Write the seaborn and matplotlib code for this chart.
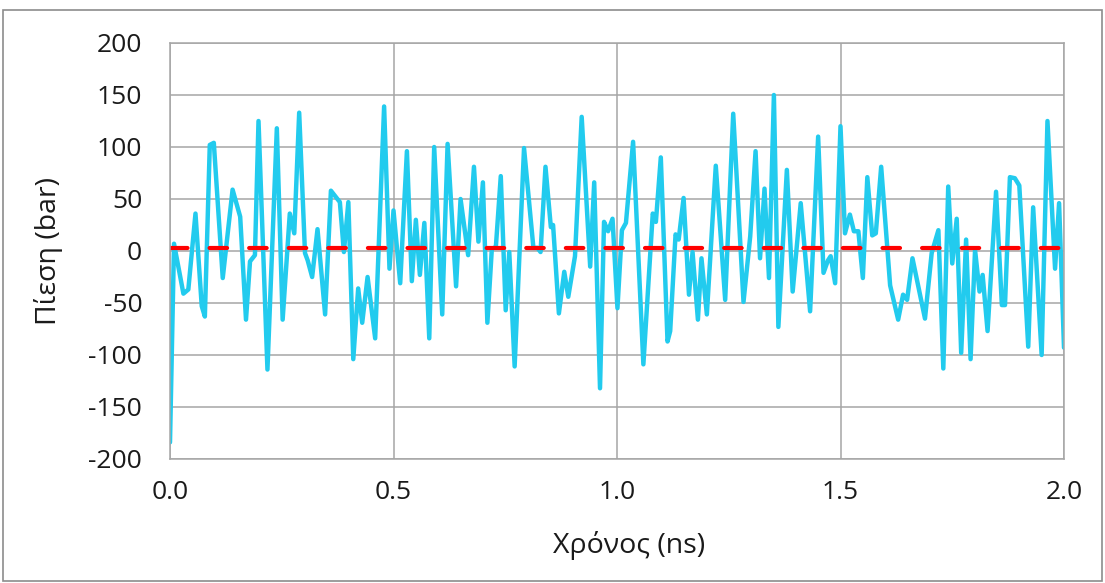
import matplotlib
matplotlib.use("Agg")
import matplotlib.pyplot as plt
import matplotlib.patches as patches
import seaborn as sns
import pandas as pd

# ---- data ----
time_ns = [0.000, 0.009, 0.030, 0.041, 0.057, 0.071, 0.078, 0.089, 0.098, 0.118,
           0.140, 0.157, 0.170, 0.179, 0.190, 0.198, 0.218, 0.239, 0.252, 0.268,
           0.278, 0.289, 0.302, 0.308, 0.318, 0.330, 0.347, 0.360, 0.380, 0.389,
           0.399, 0.410, 0.421, 0.430, 0.442, 0.459, 0.479, 0.491, 0.500, 0.515,
           0.530, 0.541, 0.550, 0.559, 0.569, 0.580, 0.591, 0.609, 0.621, 0.640,
           0.650, 0.667, 0.680, 0.690, 0.700, 0.710, 0.720, 0.729, 0.740, 0.751,
           0.759, 0.771, 0.792, 0.813, 0.822, 0.829, 0.840, 0.852, 0.857, 0.870,
           0.882, 0.891, 0.906, 0.921, 0.940, 0.949, 0.962, 0.971, 0.980, 0.990,
           1.001, 1.011, 1.020, 1.036, 1.059, 1.080, 1.087, 1.098, 1.113, 1.119,
           1.131, 1.138, 1.149, 1.161, 1.169, 1.181, 1.189, 1.201, 1.221, 1.242,
           1.260, 1.283, 1.298, 1.310, 1.320, 1.330, 1.340, 1.351, 1.361, 1.380,
           1.393, 1.411, 1.432, 1.450, 1.462, 1.472, 1.478, 1.488, 1.500, 1.510,
           1.521, 1.530, 1.540, 1.550, 1.560, 1.571, 1.579, 1.591, 1.611, 1.629,
           1.640, 1.649, 1.661, 1.689, 1.704, 1.719, 1.730, 1.741, 1.750, 1.760,
           1.770, 1.781, 1.791, 1.801, 1.811, 1.818, 1.829, 1.848, 1.861, 1.868,
           1.879, 1.890, 1.900, 1.920, 1.931, 1.950, 1.963, 1.980, 1.989, 2.000]

pressure_bar = [-184, 7, -41, -37, 36, -53, -63, 102, 104, -26,
                59, 33, -66, -10, -4, 125, -114, 118, -66, 36,
                17, 133, -2, -9, -25, 21, -61, 58, 47, -1,
                47, -104, -36, -69, -25, -84, 139, -17, 39, -31,
                96, -29, 30, -23, 27, -84, 100, -61, 103, -34,
                50, -4, 81, 9, 66, -69, 2, 4, 72, -57,
                -1, -111, 99, 3, 3, -1, 81, 23, 25, -60,
                -20, -44, -5, 129, -15, 66, -132, 28, 19, 31,
                -55, 20, 27, 105, -109, 36, 28, 90, -87, -77,
                16, 11, 51, -42, -1, -66, -7, -61, 82, -47,
                132, -49, 14, 96, -7, 60, -26, 150, -73, 78,
                -39, 46, -58, 110, -21, -9, -5, -31, 120, 17,
                35, 19, 19, -26, 71, 15, 17, 81, -33, -66,
                -42, -47, -7, -65, -2, 20, -113, 62, -12, 31,
                -98, 11, -104, 1, -39, -23, -77, 57, -52, -52,
                71, 70, 63, -92, 42, -100, 125, -17, 46, -93]

mean_time_ns = [0.0, 2.0]
mean_pressure_bar = [2.5, 2.5]

x_ticks = [0.0, 0.5, 1.0, 1.5, 2.0]
x_tick_labels = ["0.0", "0.5", "1.0", "1.5", "2.0"]
y_ticks = [-200, -150, -100, -50, 0, 50, 100, 150, 200]

x_label = "Χρόνος (ns)"
y_label = "Πίεση (bar)"

# ---- style ----
sns.set_style("white")
plt.rcParams["font.family"] = ["Open Sans", "DejaVu Sans"]
plt.rcParams["axes.unicode_minus"] = False

fig = plt.figure(figsize=(11.05, 5.83), dpi=100)
ax = fig.add_axes([170 / 1105, 1 - 459 / 583, 894 / 1105, 416 / 583])

df = pd.DataFrame({"t": time_ns, "p": pressure_bar})
sns.lineplot(data=df, x="t", y="p", ax=ax, color="#22CBEE", linewidth=3.2,
             estimator=None, sort=False)
ax.lines[-1].set_solid_joinstyle("round")
ax.lines[-1].set_solid_capstyle("round")

dfm = pd.DataFrame({"t": mean_time_ns, "p": mean_pressure_bar})
sns.lineplot(data=dfm, x="t", y="p", ax=ax, color="#FF0000", linewidth=3.0,
             estimator=None)
ml = ax.lines[-1]
ml.set_dashes((4.2, 5.3))
ml.set_dash_capstyle("round")

ax.set_xlim(0, 2.0)
ax.set_ylim(-200, 200)
ax.set_xticks(x_ticks)
ax.set_xticklabels(x_tick_labels)
ax.set_yticks(y_ticks)

grid_c = "#A6A6A6"
ax.grid(True, color=grid_c, linewidth=1.1)
ax.set_axisbelow(True)
for s in ax.spines.values():
    s.set_visible(True)
    s.set_color(grid_c)
    s.set_linewidth(1.1)

ax.tick_params(axis="both", length=0, labelsize=19, colors="#1A1A1A")
ax.tick_params(axis="y", pad=20)
ax.tick_params(axis="x", pad=15)

ax.set_xlabel(x_label, fontsize=20.5, color="#1A1A1A")
ax.set_ylabel(y_label, fontsize=20.5, color="#1A1A1A")
ax.xaxis.set_label_coords(0.513, -0.207)
ax.yaxis.set_label_coords(-0.136, 0.5)
ax.xaxis.label.set_va("center")
ax.yaxis.label.set_va("center")

# outer chart border
fig.patches.append(patches.Rectangle((3 / 1105, 2 / 583), 1099 / 1105, 571 / 583,
                                     transform=fig.transFigure, fill=False,
                                     edgecolor="#8C8C8C", linewidth=1.2))

fig.savefig("out.png", dpi=100)
